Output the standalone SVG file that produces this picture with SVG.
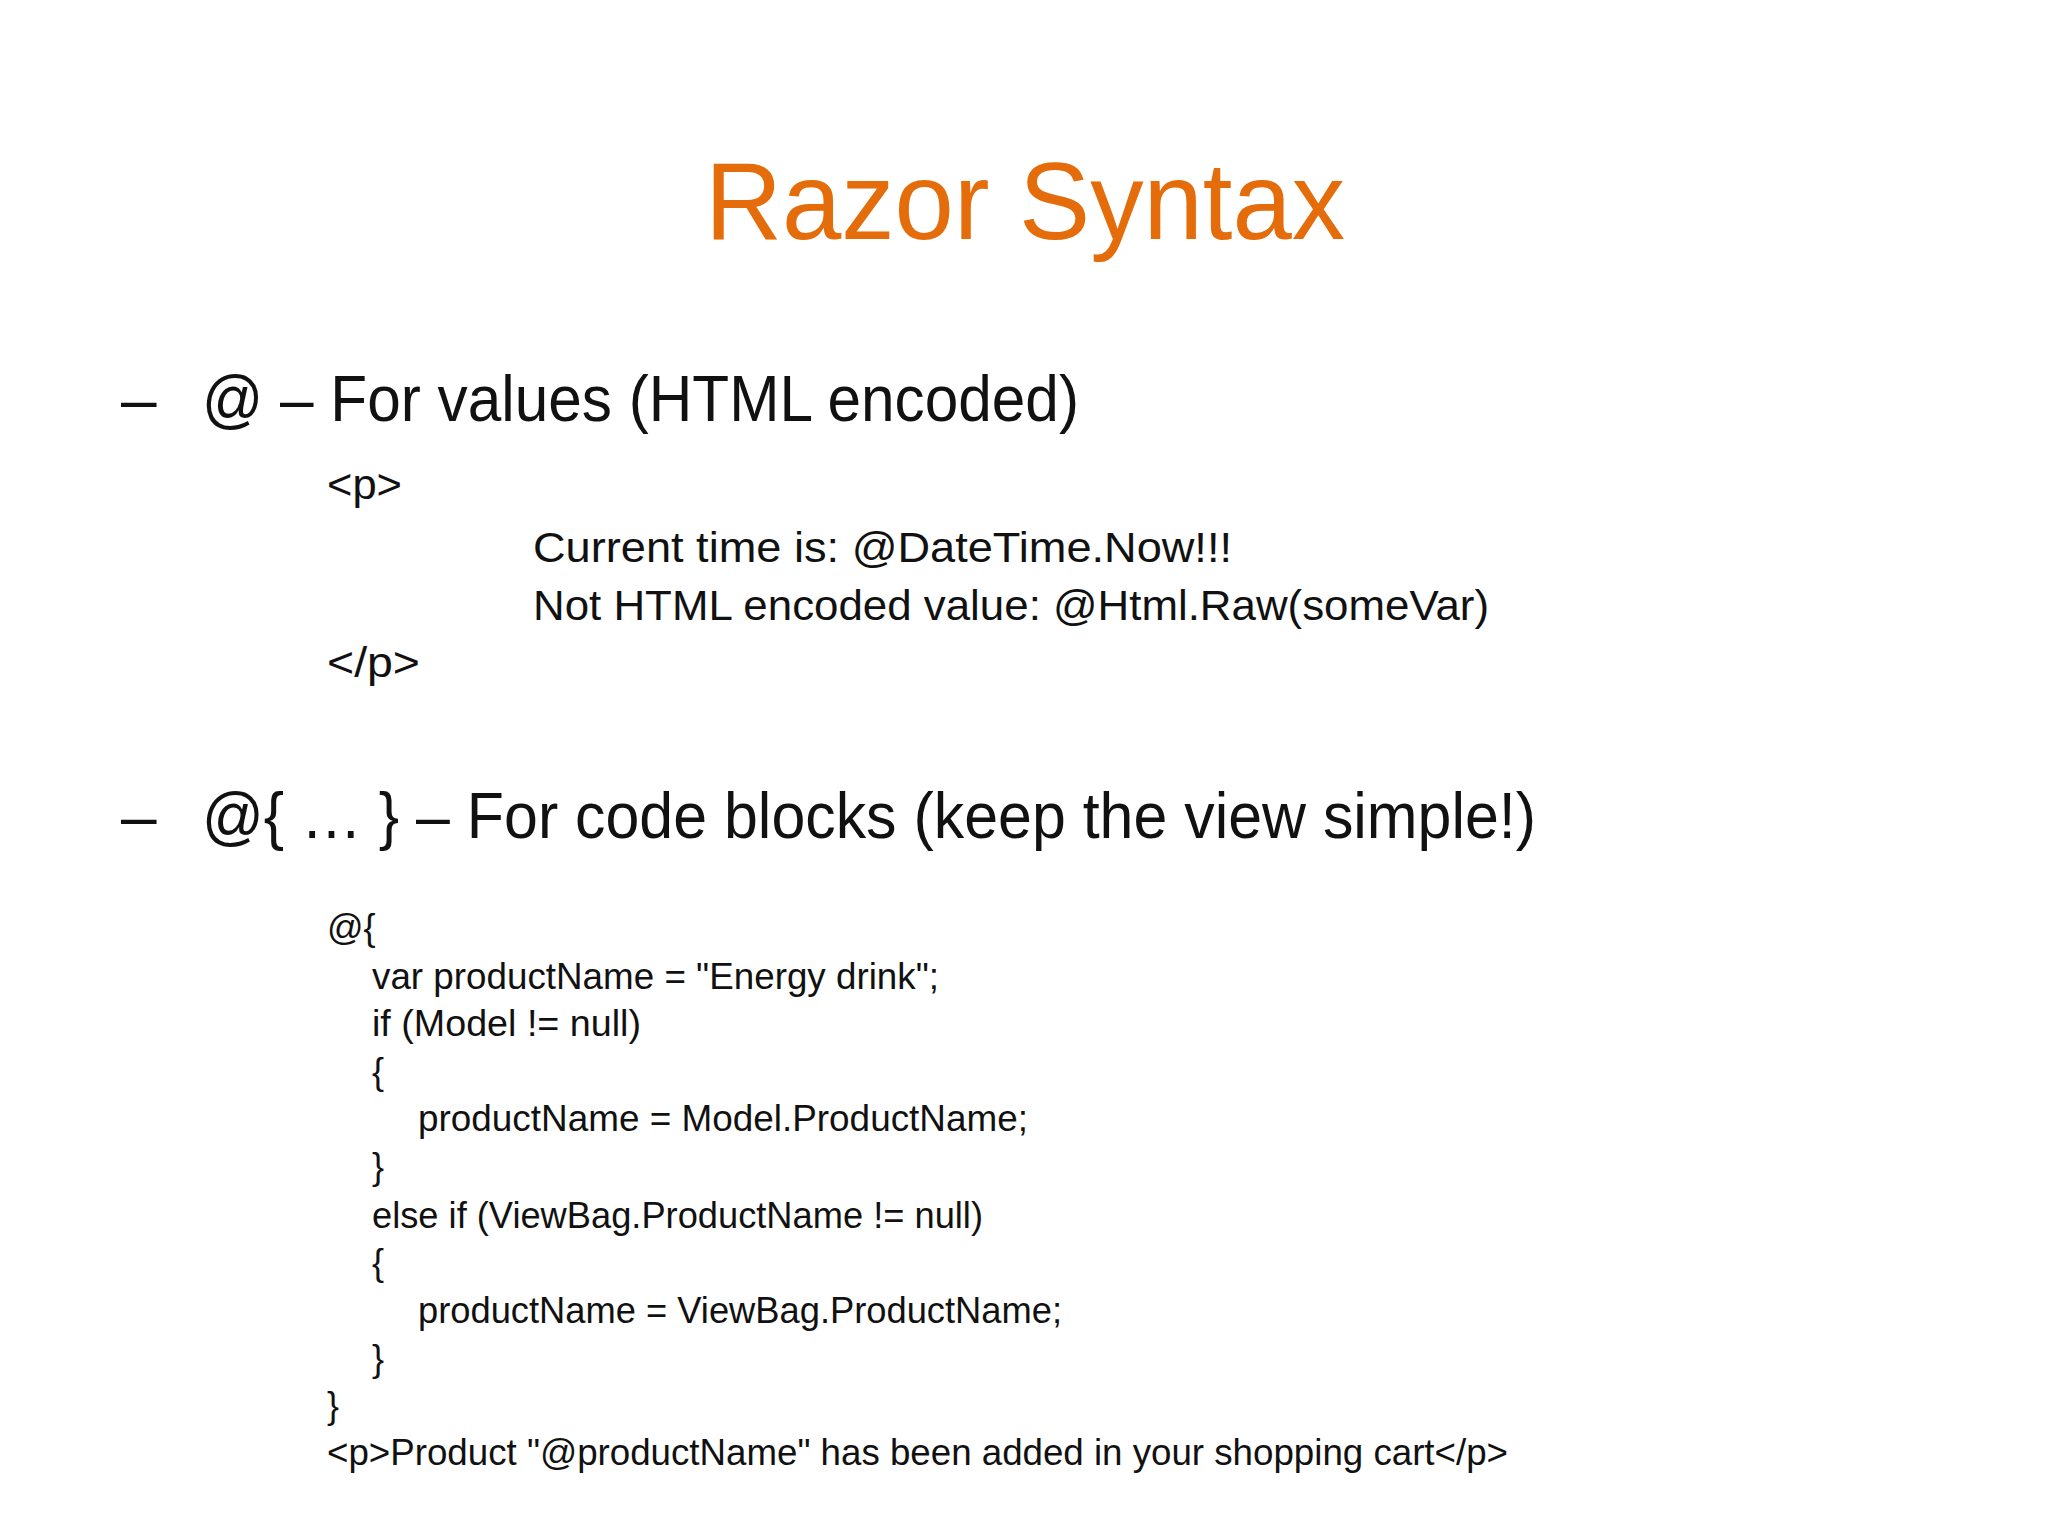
<svg xmlns="http://www.w3.org/2000/svg" width="2048" height="1536" viewBox="0 0 2048 1536">
<style>
text{font-family:"Liberation Sans",Arial,sans-serif;fill:#111}
.t{fill:#E46C0A;font-size:110px}
.b{font-size:64px}
.c{font-size:42px}
.s{font-size:36px}
</style>
<rect width="2048" height="1536" fill="#fff"/>
<text class="t" x="705" y="239" textLength="640" lengthAdjust="spacingAndGlyphs">Razor Syntax</text>
<text class="b" x="121" y="421">–</text>
<text class="b" x="202" y="421" textLength="877" lengthAdjust="spacingAndGlyphs">@ – For values (HTML encoded)</text>
<text class="c" x="327" y="499" textLength="75" lengthAdjust="spacingAndGlyphs">&lt;p&gt;</text>
<text class="c" x="533" y="562" textLength="699" lengthAdjust="spacingAndGlyphs">Current time is: @DateTime.Now!!!</text>
<text class="c" x="533" y="620" textLength="956" lengthAdjust="spacingAndGlyphs">Not HTML encoded value: @Html.Raw(someVar)</text>
<text class="c" x="327" y="677" textLength="93" lengthAdjust="spacingAndGlyphs">&lt;/p&gt;</text>
<text class="b" x="121" y="838">–</text>
<text class="b" x="202" y="838" textLength="1334" lengthAdjust="spacingAndGlyphs">@{ … } – For code blocks (keep the view simple!)</text>
<text class="s" x="327" y="940">@{</text>
<text class="s" x="372" y="989" textLength="567" lengthAdjust="spacingAndGlyphs">var productName = "Energy drink";</text>
<text class="s" x="372" y="1036" textLength="269" lengthAdjust="spacingAndGlyphs">if (Model != null)</text>
<text class="s" x="372" y="1084">{</text>
<text class="s" x="418" y="1131" textLength="610" lengthAdjust="spacingAndGlyphs">productName = Model.ProductName;</text>
<text class="s" x="372" y="1179">}</text>
<text class="s" x="372" y="1228" textLength="611" lengthAdjust="spacingAndGlyphs">else if (ViewBag.ProductName != null)</text>
<text class="s" x="372" y="1275">{</text>
<text class="s" x="418" y="1323" textLength="644" lengthAdjust="spacingAndGlyphs">productName = ViewBag.ProductName;</text>
<text class="s" x="372" y="1371">}</text>
<text class="s" x="327" y="1418">}</text>
<text class="s" x="327" y="1465" textLength="1181" lengthAdjust="spacingAndGlyphs">&lt;p&gt;Product "@productName" has been added in your shopping cart&lt;/p&gt;</text>
</svg>
